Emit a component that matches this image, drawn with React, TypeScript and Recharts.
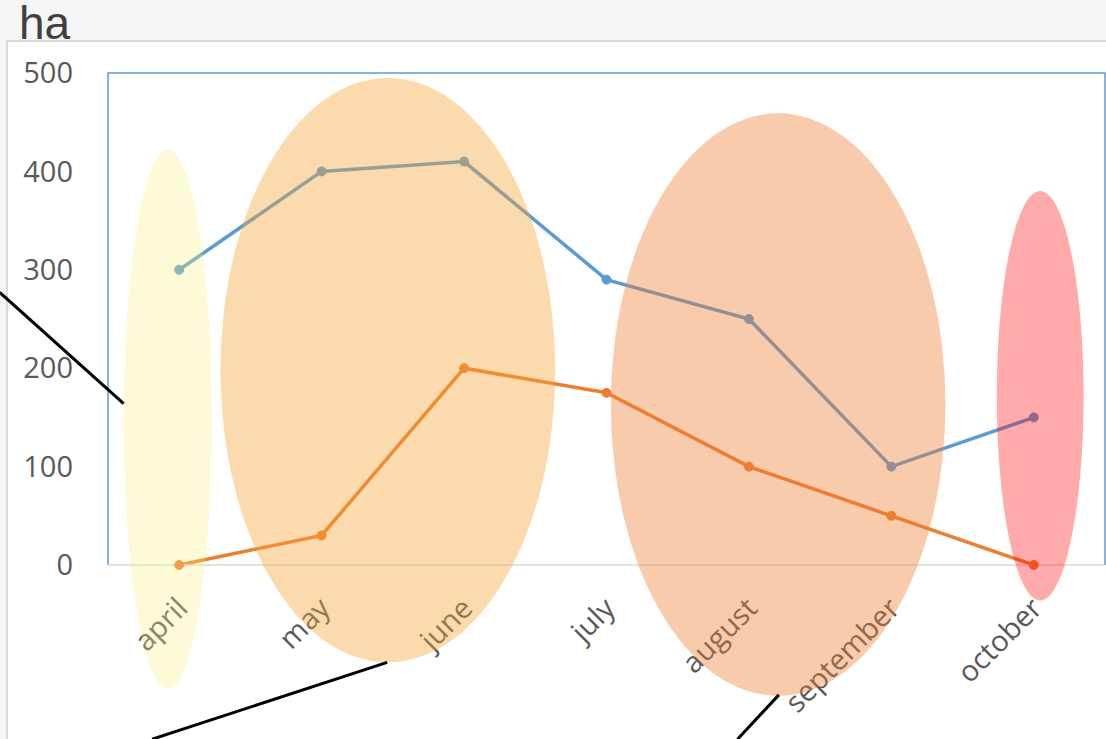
import { LineChart, Line, XAxis, YAxis, ReferenceArea, ReferenceLine } from 'recharts';

// monthly area, ha
const months = ['april', 'may', 'june', 'july', 'august', 'september', 'october'];
const blueSeries = [300, 400, 410, 290, 250, 100, 150];
const orangeSeries = [0, 30, 200, 175, 100, 50, 0];
const yTicks = [0, 100, 200, 300, 400, 500];

// highlight ovals, in month-slot units (x) and ha (y)
const ovalX: [number, number][] = [[0.11, 0.73], [0.79, 3.14], [3.53, 5.88], [6.24, 6.85]];
const ovalY: [number, number][] = [[-126, 422], [-99, 495], [-133, 459], [-36, 380]];
const ovalColors = ['#F4F07A', '#F5A534', '#ED7D31', '#FF0000'];
const ovalOpacity = [0.3, 0.4, 0.4, 0.33];

// connector lines, same units
const connectors: { x: number; y: number }[][] = [
  [{ x: -0.76, y: 277 }, { x: 0.11, y: 164 }],
  [{ x: 0.31, y: -177 }, { x: 1.96, y: -99 }],
  [{ x: 4.42, y: -177 }, { x: 4.71, y: -132 }],
];

// each month sits in the middle of its slot
const slotCenters = months.map((_, i) => i + 0.5);
const data = months.map((month, i) => ({
  slot: slotCenters[i],
  month,
  blue: blueSeries[i],
  orange: orangeSeries[i],
}));

const FONT = '"Open Sans", sans-serif';

const MonthTick = ({ x, y, payload }: any) => {
  const tx = x + 3;
  const ty = y + 38;
  return (
    <text
      x={tx}
      y={ty}
      dy="0.35em"
      textAnchor="end"
      transform={`rotate(-45 ${tx} ${ty})`}
      fill="#595959"
      fontSize={29}
      fontFamily={FONT}
    >
      {months[Math.floor(payload.value)]}
    </text>
  );
};

const oval = (fill: string, opacity: number) => (props: any) => {
  const { x, y, width, height } = props;
  return (
    <ellipse
      cx={x + width / 2}
      cy={y + height / 2}
      rx={Math.abs(width) / 2}
      ry={Math.abs(height) / 2}
      fill={fill}
      fillOpacity={opacity}
    />
  );
};

// plot frame: left, top and right edges only
const frame = (props: any) => {
  const { x, y, width, height } = props;
  return (
    <path
      d={`M${x},${y + height}L${x},${y}L${x + width},${y}L${x + width},${y + height}`}
      fill="none"
      stroke="#5B9BD5"
      strokeWidth={1.5}
    />
  );
};

export default function App() {
  return (
    <div
      style={{
        position: 'absolute',
        left: 0,
        top: 0,
        width: 1106,
        height: 739,
        background: '#F5F5F3',
        overflow: 'hidden',
      }}
    >
      <div
        style={{
          position: 'absolute',
          left: 6,
          top: 40,
          right: 0,
          bottom: 0,
          background: '#fff',
          borderLeft: '2px solid #DADADA',
          borderTop: '2px solid #DADADA',
        }}
      />
      <div
        style={{
          position: 'absolute',
          left: 19,
          top: 0,
          fontFamily: '"Liberation Sans", Arial, sans-serif',
          fontSize: 46,
          lineHeight: '46px',
          color: '#404040',
        }}
      >
        ha
      </div>
      <div style={{ position: 'absolute', left: 0, top: 0 }}>
        <LineChart width={1106} height={739} data={data} margin={{ top: 73, right: 1, bottom: 144, left: 0 }}>
          <ReferenceArea
            x1={0}
            x2={months.length}
            y1={0}
            y2={500}
            ifOverflow="visible"
            shape={frame}
            zIndex={-50}
          />
          <XAxis
            dataKey="slot"
            type="number"
            domain={[0, months.length]}
            allowDataOverflow
            ticks={slotCenters}
            height={30}
            tickSize={0}
            tickMargin={0}
            tickLine={false}
            axisLine={{ stroke: '#D9D9D9', strokeWidth: 1.5 }}
            tick={<MonthTick />}
            interval={0}
          />
          <YAxis
            width={108}
            domain={[0, 500]}
            ticks={yTicks}
            axisLine={false}
            tickLine={false}
            tickSize={0}
            tickMargin={35}
            tick={{ fill: '#595959', fontSize: 29, fontFamily: FONT }}
          />
          <Line
            dataKey="blue"
            stroke="#5B9BD5"
            strokeWidth={3.5}
            dot={{ r: 4.5, fill: '#5B9BD5', stroke: '#5B9BD5', strokeWidth: 1 }}
            activeDot={false}
            isAnimationActive={false}
          />
          <Line
            dataKey="orange"
            stroke="#ED7D31"
            strokeWidth={3.5}
            dot={{ r: 4.5, fill: '#ED7D31', stroke: '#ED7D31', strokeWidth: 1 }}
            activeDot={false}
            isAnimationActive={false}
          />
          {ovalX.map((xr, i) => (
            <ReferenceArea
              key={`oval-${i}`}
              x1={xr[0]}
              x2={xr[1]}
              y1={ovalY[i][0]}
              y2={ovalY[i][1]}
              ifOverflow="visible"
              shape={oval(ovalColors[i], ovalOpacity[i])}
              zIndex={2500}
            />
          ))}
          {connectors.map((seg, i) => (
            <ReferenceLine
              key={`conn-${i}`}
              segment={seg}
              ifOverflow="visible"
              stroke="#000"
              strokeWidth={3}
              zIndex={2600}
            />
          ))}
        </LineChart>
      </div>
    </div>
  );
}
